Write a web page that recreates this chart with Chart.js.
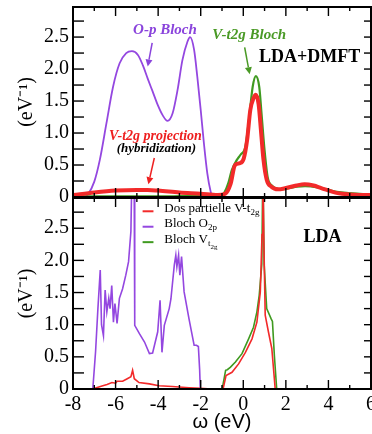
<!DOCTYPE html>
<html><head><meta charset="utf-8">
<script src="https://cdn.jsdelivr.net/npm/chart.js@4"></script>
<style>
html,body{margin:0;padding:0;background:#fff;width:372px;height:434px;overflow:hidden}
#wrap{position:relative;width:372px;height:434px}
canvas{position:absolute;left:0;top:0;width:372px;height:434px}
</style>
</head><body>
<div id="wrap"><canvas id="bot" width="372" height="434"></canvas><canvas id="top" width="372" height="434"></canvas></div>
<script>
// ---------- DATA ----------
const xTicks = [-8, -6, -4, -2, 0, 2, 4, 6];
const yTicks = [0, 0.5, 1, 1.5, 2, 2.5];

// Top panel: LDA+DMFT
const dmftOpOmega = [-7.6, -7.45, -7.3, -7.0, -6.74, -6.43, -6.12, -5.81, -5.5, -5.23, -4.95, -4.72, -4.49, -4.26, -4.02, -3.79, -3.56, -3.32, -3.09, -2.86, -2.62, -2.5, -2.31, -2.16, -2.0, -1.85, -1.69, -1.53, -1.45, -1.2];
const dmftOpDos   = [0, 0, 0.04, 0.24, 0.58, 1.15, 1.72, 2.09, 2.25, 2.28, 2.22, 2.06, 1.85, 1.65, 1.44, 1.28, 1.19, 1.31, 1.67, 2.14, 2.43, 2.5, 2.3, 1.88, 1.36, 0.84, 0.37, 0.08, 0, 0];

const dmftProjOmega = [-8, -7, -6, -5, -4.5, -4, -3, -2, -1.2, -0.85, -0.6, -0.39, -0.15, 0.02, 0.18, 0.33, 0.49, 0.59, 0.72, 0.84, 0.95, 1.1, 1.32, 1.63, 2.0, 2.5, 2.88, 3.3, 3.66, 4.43, 5.0, 5.83, 6];
const dmftProjDos   = [0.03, 0.07, 0.1, 0.11, 0.11, 0.1, 0.07, 0.05, 0.03, 0.05, 0.2, 0.5, 0.53, 0.6, 0.89, 1.36, 1.55, 1.6, 1.45, 1.0, 0.58, 0.27, 0.16, 0.12, 0.14, 0.18, 0.2, 0.18, 0.14, 0.06, 0.04, 0.03, 0.03];

const dmftVtOmega = [-8, -4, -2, -1.0, -0.9, -0.7, -0.54, -0.3, -0.13, 0.1, 0.28, 0.44, 0.59, 0.75, 0.87, 1.0, 1.15, 1.34, 1.8, 2.5, 2.9, 3.5, 4.4, 5.0, 5.83, 6];
const dmftVtDos   = [0.01, 0.01, 0.02, 0.03, 0.06, 0.22, 0.42, 0.58, 0.66, 0.79, 1.25, 1.72, 1.89, 1.72, 1.25, 0.73, 0.3, 0.18, 0.12, 0.16, 0.17, 0.15, 0.08, 0.06, 0.04, 0.03];

// Bottom panel: LDA
const ldaProjOmega = [-7.07, -6.9, -6.6, -6.4, -6.17, -6.0, -5.93, -5.67, -5.45, -5.28, -5.2, -5.12, -4.9, -4.41, -3.96, -3.33, -2.55, -2.02, -1.5, -0.95, -0.81, -0.53, -0.22, 0.1, 0.41, 0.64, 0.8, 0.88, 0.92, 0.96, 1.03, 1.18, 1.34, 1.5, 6];
const ldaProjDos   = [0, 0.02, 0.05, 0.07, 0.1, 0.09, 0.12, 0.12, 0.16, 0.19, 0.29, 0.16, 0.1, 0.08, 0.05, 0.04, 0.02, 0.01, 0, 0, 0.21, 0.26, 0.39, 0.57, 0.78, 1.04, 1.51, 2.4, 3.5, 2.4, 1.15, 0.89, 0.63, 0, 0];

const ldaOpOmega = [-7.07, -6.94, -6.83, -6.72, -6.66, -6.57, -6.49, -6.41, -6.32, -6.26, -6.18, -6.1, -6.03, -5.93, -5.82, -5.67, -5.52, -5.39, -5.28, -5.22, -5.13, -5.1, -4.88, -4.64, -4.41, -4.26, -4.02, -3.91, -3.82, -3.71, -3.48, -3.4, -3.24, -3.17, -3.12, -3.04, -2.98, -2.9, -2.78, -2.55, -2.31, -2.2, -2.11, -2.05, -2.02];
const ldaOpDos   = [0, 0.58, 1.25, 1.85, 1.0, 0.83, 1.54, 1.2, 1.41, 1.25, 1.61, 1.04, 1.33, 1.02, 1.41, 1.56, 1.77, 1.98, 2.45, 3.6, 3.6, 0.99, 0.86, 0.73, 0.55, 0.56, 0.89, 1.38, 0.57, 0.99, 1.25, 1.4, 1.93, 2.08, 1.9, 2.08, 1.77, 2.06, 1.51, 1.09, 0.68, 0.68, 0.66, 0.3, 0];

const ldaVtOmega = [-0.99, -0.83, -0.75, -0.6, -0.37, -0.06, 0.25, 0.48, 0.64, 0.75, 0.87, 0.92, 0.98, 1.1, 1.31, 1.37, 1.46, 1.57, 6];
const ldaVtDos   = [0, 0.29, 0.3, 0.34, 0.42, 0.55, 0.78, 0.96, 1.2, 1.46, 1.94, 3.5, 1.94, 1.25, 1.09, 1.05, 0.52, 0, 0];

const legendLabels = ['Dos partielle V-t', 'Bloch O', 'Bloch V'];

// ---------- STYLE ----------
const PURPLE = '#9447e0', RED = '#f22a2a', GREEN = '#3f9a20';
const SERIF = '"Liberation Serif", "Times New Roman", serif';
const pts = (xs, ys) => xs.map((x, i) => ({x, y: ys[i]}));

function line(ctx, x1, y1, x2, y2) { ctx.beginPath(); ctx.moveTo(x1, y1); ctx.lineTo(x2, y2); ctx.stroke(); }

const framePlugin = {
  id: 'frame',
  afterDatasetsDraw(chart) {
    const {ctx, chartArea: a} = chart;
    const x = chart.scales.x, y = chart.scales.y;
    ctx.save();
    ctx.strokeStyle = '#000';
    ctx.lineWidth = 1.4;
    for (let v = -8; v <= 6; v += 1) {
      const px = x.getPixelForValue(v);
      const len = (v % 2 === 0) ? 9 : 4;
      line(ctx, px, a.top, px, a.top + len);
      line(ctx, px, a.bottom, px, a.bottom - len);
    }
    for (let k = 0; k * 0.25 <= y.max; k++) {
      const py = y.getPixelForValue(k * 0.25);
      line(ctx, a.left, py, a.left + 11, py);
      line(ctx, a.right, py, a.right - 7, py);
    }
    ctx.lineWidth = 2;
    ctx.strokeRect(a.left, a.top, a.right - a.left, a.bottom - a.top);
    ctx.restore();
  }
};

function arrow(ctx, x1, y1, x2, y2, color) {
  ctx.strokeStyle = color; ctx.fillStyle = color; ctx.lineWidth = 1.5;
  const ang = Math.atan2(y2 - y1, x2 - x1), L = 7, W = 3.5;
  const bx = x2 - L * Math.cos(ang), by = y2 - L * Math.sin(ang);
  line(ctx, x1, y1, bx, by);
  ctx.beginPath();
  ctx.moveTo(x2, y2);
  ctx.lineTo(bx + W * Math.sin(ang), by - W * Math.cos(ang));
  ctx.lineTo(bx - W * Math.sin(ang), by + W * Math.cos(ang));
  ctx.closePath(); ctx.fill();
}

function label(chart, s, xv, yv, font, color, align) {
  const ctx = chart.ctx;
  ctx.font = font; ctx.fillStyle = color;
  ctx.textAlign = align || 'center'; ctx.textBaseline = 'middle';
  ctx.fillText(s, chart.scales.x.getPixelForValue(xv), chart.scales.y.getPixelForValue(yv));
}

const topNotes = {
  id: 'topNotes',
  afterDraw(chart) {
    const ctx = chart.ctx, X = v => chart.scales.x.getPixelForValue(v), Y = v => chart.scales.y.getPixelForValue(v);
    ctx.save();
    label(chart, 'O-p Bloch', -3.68, 2.61, 'italic bold 15px ' + SERIF, '#8a44dc');
    arrow(ctx, X(-4.28), Y(2.41), X(-4.49), Y(2.04), '#8a44dc');
    label(chart, 'V-t2g Bloch', 0.28, 2.53, 'italic bold 15px ' + SERIF, '#4a9a26');
    arrow(ctx, X(0.065), Y(2.34), X(0.30), Y(1.92), '#4a9a26');
    label(chart, 'LDA+DMFT', 3.12, 2.19, 'bold 18px ' + SERIF, '#000');
    label(chart, 'V-t2g projection', -4.13, 0.94, 'italic bold 14px ' + SERIF, '#ee2020');
    label(chart, '(hybridization)', -4.08, 0.75, 'italic bold 13px ' + SERIF, '#000');
    arrow(ctx, X(-4.18), Y(0.61), X(-4.46), Y(0.2), '#ee2020');
    ctx.restore();
  }
};

const botNotes = {
  id: 'botNotes',
  afterDraw(chart) {
    const ctx = chart.ctx, X = v => chart.scales.x.getPixelForValue(v), Y = v => chart.scales.y.getPixelForValue(v);
    ctx.save();
    label(chart, 'LDA', 3.72, 2.36, 'bold 18px ' + SERIF, '#000');
    const cols = [RED, PURPLE, GREEN];
    const rows = [2.81, 2.57, 2.33];
    const x0 = X(-3.71);
    for (let i = 0; i < 3; i++) {
      const py = Y(rows[i]);
      ctx.strokeStyle = cols[i]; ctx.lineWidth = 2;
      line(ctx, X(-4.73), py + 3, X(-4.22), py + 3);
      ctx.fillStyle = '#000'; ctx.textAlign = 'left'; ctx.textBaseline = 'middle';
      ctx.font = '13px ' + SERIF;
      ctx.fillText(legendLabels[i], x0, py);
      let w = ctx.measureText(legendLabels[i]).width;
      ctx.font = '9px ' + SERIF;
      if (i === 0) ctx.fillText('2g', x0 + w, py + 4);
      if (i === 1) ctx.fillText('2p', x0 + w, py + 4);
      if (i === 2) {
        ctx.fillText('t', x0 + w, py + 4);
        const w2 = ctx.measureText('t').width;
        ctx.font = '7px ' + SERIF;
        ctx.fillText('2g', x0 + w + w2, py + 8);
      }
    }
    ctx.restore();
  }
};

function yScale() {
  return {
    type: 'linear', min: 0, max: 2.97,
    grid: {display: false, drawTicks: false}, border: {display: false},
    ticks: {
      stepSize: 0.5, includeBounds: false, padding: 4, color: '#000',
      font: {family: SERIF, size: 20}
    },
    title: {display: true, text: '(eV\u207B\u00B9)', color: '#000', font: {family: SERIF, size: 20}, padding: {top: 15, bottom: 0}},
    afterFit(s) { s.width = 73; s.paddingTop = 0; s.paddingBottom = 0; }
  };
}

function baseOpts(pad, showX) {
  return {
    responsive: false, animation: false, devicePixelRatio: 1,
    layout: {padding: pad},
    plugins: {legend: {display: false}, tooltip: {enabled: false}},
    elements: {point: {radius: 0}},
    scales: {
      x: {
        type: 'linear', min: -8, max: 6,
        grid: {display: false, drawTicks: false}, border: {display: false},
        ticks: {display: showX, stepSize: 2, padding: 4, color: '#000', font: {family: SERIF, size: 20}, maxRotation: 0},
        title: {display: showX, text: '\u03C9 (eV)', color: '#000', font: {family: '"Liberation Sans", Arial, sans-serif', size: 20}, padding: {top: 0, bottom: 0}},
        afterFit(s) { s.height = showX ? 45 : 237; s.paddingLeft = 0; s.paddingRight = 0; }
      },
      y: yScale()
    }
  };
}

new Chart(document.getElementById('top'), {
  type: 'line',
  data: {datasets: [
    {data: pts(dmftProjOmega, dmftProjDos), borderColor: RED, borderWidth: 4, cubicInterpolationMode: 'monotone', order: 0},
    {data: pts(dmftVtOmega, dmftVtDos), borderColor: GREEN, borderWidth: 2.2, cubicInterpolationMode: 'monotone', order: 1},
    {data: pts(dmftOpOmega, dmftOpDos), borderColor: PURPLE, borderWidth: 1.8, cubicInterpolationMode: 'monotone', order: 2}
  ]},
  options: baseOpts({top: 7, right: 1, left: 0, bottom: 0}, false),
  plugins: [framePlugin, topNotes]
});

new Chart(document.getElementById('bot'), {
  type: 'line',
  data: {datasets: [
    {data: pts(ldaProjOmega, ldaProjDos), borderColor: RED, borderWidth: 1.6, tension: 0, order: 0},
    {data: pts(ldaOpOmega, ldaOpDos), borderColor: PURPLE, borderWidth: 1.6, tension: 0, order: 1},
    {data: pts(ldaVtOmega, ldaVtDos), borderColor: GREEN, borderWidth: 1.6, tension: 0, order: 2}
  ]},
  options: baseOpts({top: 198, right: 1, left: 0, bottom: 0}, true),
  plugins: [framePlugin, botNotes]
});
</script>
</body></html>
